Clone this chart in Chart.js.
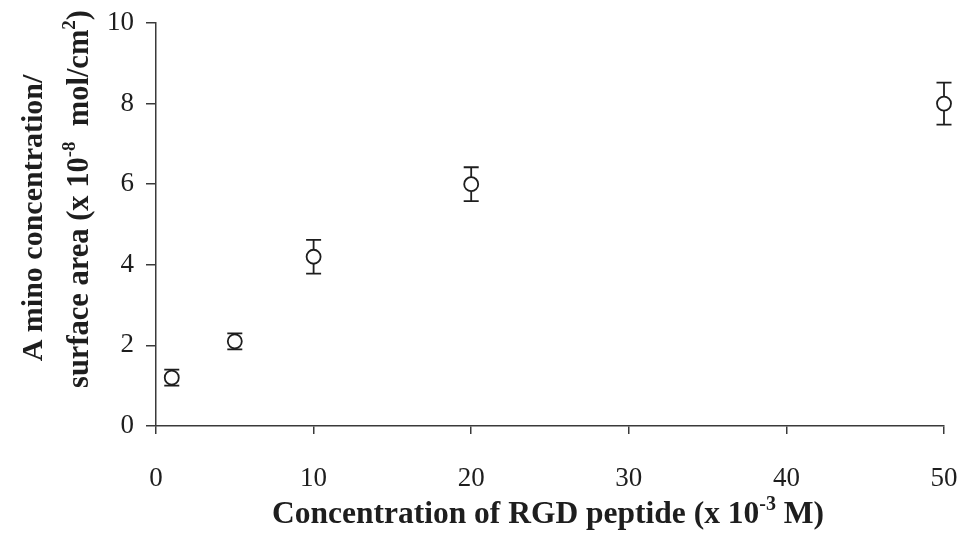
<!DOCTYPE html>
<html>
<head>
<meta charset="utf-8">
<script src="https://cdn.jsdelivr.net/npm/chart.js@4.4.1/dist/chart.umd.min.js"></script>
<style>
html,body{margin:0;padding:0;background:#fff;}
#wrap{width:963px;height:533px;}
</style>
</head>
<body>
<div id="wrap"><canvas id="c" width="963" height="533"></canvas></div>
<script>
// ---- data ----
const concentrations = [1, 5, 10, 20, 50];          // x 10^-3 M
const aminoValues    = [1.2, 2.1, 4.2, 6.0, 8.0];   // x 10^-8 mol/cm^2
const aminoErrors    = [0.2, 0.2, 0.42, 0.42, 0.52];
const xTickValues    = [0, 10, 20, 30, 40, 50];
const yTickValues    = [0, 2, 4, 6, 8, 10];
const xTitleParts    = [["Concentration of RGD peptide (x 10", false], ["-3", true], [" M)", false]];
const yTitleLine1    = [["A mino concentration/", false]];
const yTitleLine2    = [["surface area (x 10", false], ["-8", true], ["  mol/cm", false], ["2", true], [")", false]];

const INK = '#1e1e1e';
const AXIS = '#3a3a3a';
const SERIF = '"Liberation Serif", "Times New Roman", serif';

const errorBars = {
  id: 'errorBars',
  beforeDatasetsDraw(chart) {
    const ctx = chart.ctx, xs = chart.scales.x, ys = chart.scales.y;
    ctx.save();
    ctx.strokeStyle = INK;
    ctx.lineWidth = 1.8;
    concentrations.forEach((c, i) => {
      const px = xs.getPixelForValue(c);
      const top = ys.getPixelForValue(aminoValues[i] + aminoErrors[i]);
      const bot = ys.getPixelForValue(aminoValues[i] - aminoErrors[i]);
      ctx.beginPath();
      ctx.moveTo(px, top); ctx.lineTo(px, bot);
      ctx.moveTo(px - 7.5, top); ctx.lineTo(px + 7.5, top);
      ctx.moveTo(px - 7.5, bot); ctx.lineTo(px + 7.5, bot);
      ctx.stroke();
    });
    ctx.restore();
  }
};

function drawRich(ctx, parts, size, cx, baseY) {
  const main = 'bold ' + size + 'px ' + SERIF;
  const sup = 'bold ' + Math.round(size * 0.62) + 'px ' + SERIF;
  let total = 0;
  parts.forEach(([t, s]) => { ctx.font = s ? sup : main; total += ctx.measureText(t).width; });
  let x = cx - total / 2;
  parts.forEach(([t, s]) => {
    ctx.font = s ? sup : main;
    ctx.fillText(t, x, s ? baseY - size * 0.42 : baseY);
    x += ctx.measureText(t).width;
  });
}

const titles = {
  id: 'titles',
  beforeDraw(chart) {
    const ctx = chart.ctx;
    ctx.save();
    ctx.fillStyle = '#fff';
    ctx.fillRect(0, 0, chart.width, chart.height);
    ctx.restore();
  },
  afterDraw(chart) {
    const ctx = chart.ctx;
    ctx.save();
    ctx.fillStyle = INK;
    ctx.textBaseline = 'alphabetic';
    ctx.textAlign = 'left';
    drawRich(ctx, xTitleParts, 31.5, 548, 523);
    ctx.save();
    ctx.translate(42, 218);
    ctx.rotate(-Math.PI / 2);
    drawRich(ctx, yTitleLine1, 30, 0, 0);
    ctx.restore();
    ctx.save();
    ctx.translate(88, 199);
    ctx.rotate(-Math.PI / 2);
    drawRich(ctx, yTitleLine2, 30.5, 0, 0);
    ctx.restore();
    ctx.restore();
  }
};

new Chart(document.getElementById('c'), {
  type: 'scatter',
  data: {
    datasets: [{
      data: concentrations.map((c, i) => ({ x: c, y: aminoValues[i] })),
      pointStyle: 'circle',
      pointRadius: 7,
      pointHoverRadius: 7,
      pointBackgroundColor: '#fff',
      pointBorderColor: INK,
      pointBorderWidth: 1.8,
      showLine: false,
      clip: false
    }]
  },
  options: {
    responsive: false,
    animation: false,
    devicePixelRatio: 1,
    layout: { padding: { left: 0, right: 19, top: 23, bottom: 0 } },
    plugins: { legend: { display: false }, tooltip: { enabled: false } },
    scales: {
      x: {
        type: 'linear', min: 0, max: 50,
        afterBuildTicks: s => { s.ticks = xTickValues.map(v => ({ value: v })); },
        afterFit: s => { s.height = 107; s.paddingLeft = 0; s.paddingRight = 0; },
        border: { color: AXIS, width: 1.5 },
        grid: { drawOnChartArea: false, drawTicks: true, tickLength: 8, color: AXIS, lineWidth: 1.5 },
        ticks: { color: INK, font: { family: SERIF, size: 27 }, padding: 29, maxRotation: 0 }
      },
      y: {
        type: 'linear', min: 0, max: 10,
        afterBuildTicks: s => { s.ticks = yTickValues.map(v => ({ value: v })); },
        afterFit: s => { s.width = 156; s.paddingTop = 0; s.paddingBottom = 0; },
        border: { color: AXIS, width: 1.5 },
        grid: { drawOnChartArea: false, drawTicks: true, tickLength: 10, color: AXIS, lineWidth: 1.5 },
        ticks: { color: INK, font: { family: SERIF, size: 27 }, padding: 12 }
      }
    }
  },
  plugins: [errorBars, titles]
});
</script>
</body>
</html>
